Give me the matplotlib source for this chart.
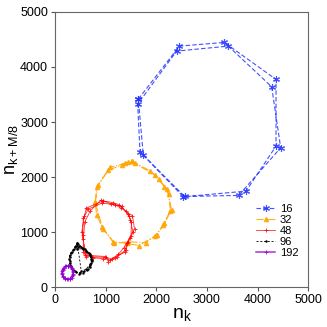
import numpy as np
import matplotlib
matplotlib.use("Agg")
import matplotlib.pyplot as plt

plt.rcParams['font.family'] = ['Liberation Sans', 'DejaVu Sans']
plt.rcParams['mathtext.default'] = 'regular'

# M = 16 (two nearly overlapping octagon loops)
nk_16 = [1645, 2454, 3342, 4362, 4362, 3770, 2533, 1678,
         1632, 2401, 3421, 4276, 4454, 3625, 2560, 1743]
nm_16 = [3416, 4377, 4444, 3773, 2563, 1747, 1644, 2461,
         3325, 4287, 4377, 3640, 2533, 1669, 1650, 2400]

# M = 32
nk_32 = [1516, 1877, 2055, 2210, 2300, 2160, 2010, 1790, 1440, 1172, 950, 823, 790, 856, 1087, 1383,
         1575, 1976, 2160, 2250, 2275, 2135, 1975, 1650, 1417, 1152, 935, 800, 823, 1054, 1318, 1440]
nm_32 = [2290, 2116, 1960, 1790, 1410, 1160, 960, 810, 830, 798, 1060, 1312, 1555, 1857, 2178, 2250,
         2250, 2040, 1826, 1690, 1390, 1130, 930, 760, 800, 830, 1090, 1530, 1826, 2129, 2220, 2270]

# M = 48
nk_48 = [954, 1138, 1270, 1440, 1490, 1540, 1450, 1400, 1217, 1086, 987, 724, 592, 546, 559, 658,
         930, 1180, 1300, 1400, 1530, 1570, 1480, 1360, 1250, 1120, 940, 760, 560, 560, 590, 700,
         900, 1100, 1320, 1460, 1510, 1500, 1420, 1380, 1180, 1050, 1010, 700, 620, 530, 580, 620]
nm_48 = [1570, 1540, 1500, 1340, 1220, 1000, 830, 680, 556, 490, 545, 556, 586, 949, 1251, 1421,
         1530, 1500, 1440, 1380, 1300, 1060, 900, 720, 600, 520, 520, 540, 640, 880, 1190, 1390,
         1580, 1520, 1470, 1290, 1180, 940, 800, 640, 540, 470, 560, 580, 560, 1010, 1300, 1440]

# M = 96
nk_96 = [440, 520, 600, 670, 720, 740, 700, 650, 570, 490, 420, 360, 310, 290, 280, 300, 330, 380, 410, 460,
         470, 540, 620, 690, 710, 720, 690, 630, 560, 470, 400, 340, 300, 300, 290, 310, 350, 390, 430, 450,
         430, 560, 640, 700, 730, 700, 610, 520]
nm_96 = [810, 740, 690, 630, 560, 480, 400, 340, 290, 270, 280, 320, 380, 450, 520, 590, 650, 700, 760, 790,
         760, 720, 660, 600, 520, 440, 370, 310, 270, 250, 290, 340, 410, 480, 560, 620, 670, 730, 780, 740,
         700, 700, 640, 580, 500, 420, 330, 290]

# M = 192
nk_192 = [250, 300, 340, 360, 360, 340, 300, 250, 200, 160, 140, 140, 160, 200,
          260, 310, 345, 365, 355, 330, 290, 240, 190, 155, 145, 150, 170, 215]
nm_192 = [390, 380, 350, 300, 250, 200, 160, 150, 160, 190, 240, 290, 340, 380,
          385, 370, 330, 280, 225, 180, 150, 145, 170, 210, 260, 310, 355, 390]

fig = plt.figure(figsize=(3.27, 3.27), dpi=100)
ax = fig.add_axes([0.168, 0.121, 0.775, 0.843])

def closed(a):
    return np.append(a, a[0])

ax.plot(closed(nk_16), closed(nm_16), ls=(0, (4, 2)), color='#2233ff', marker=(6, 2, 0), ms=5, mew=0.8,
        lw=0.8, alpha=0.85, label='16')
ax.plot(closed(nk_32), closed(nm_32), '-.', color='orange', marker='^', ms=3,
        lw=0.8, alpha=0.85, label='32')
ax.plot(closed(nk_48), closed(nm_48), '-', color='red', marker='+', ms=3.5, mew=0.7,
        lw=0.6, alpha=0.8, label='48')
ax.plot(closed(nk_96), closed(nm_96), ls=(0, (2.5, 2)), color='black', marker='.', ms=1.5,
        lw=0.6, label='96')
ax.plot(closed(nk_192), closed(nm_192), '-', color='darkviolet', marker='+', ms=2.5, mew=0.7,
        lw=1.1, alpha=0.8, label='192')

ax.set_xlim(0, 5000)
ax.set_ylim(0, 5000)
ax.set_xticks([0, 1000, 2000, 3000, 4000, 5000])
ax.set_yticks([0, 1000, 2000, 3000, 4000, 5000])
ax.tick_params(labelsize=9, length=3, width=0.8, color='#555555', direction='out', pad=2)
for s in ax.spines.values():
    s.set_color('#666666')
    s.set_linewidth(0.8)

ax.set_xlabel(r'$n_k$', fontsize=14, labelpad=0)
ax.set_ylabel(r'$n_{k+M/8}$', fontsize=13, labelpad=0)

ax.legend(loc='lower right', bbox_to_anchor=(1.0, 0.07), frameon=False, fontsize=8,
          labelspacing=0.1, handlelength=1.7, handletextpad=0.4)

fig.savefig('out.png', dpi=100)
